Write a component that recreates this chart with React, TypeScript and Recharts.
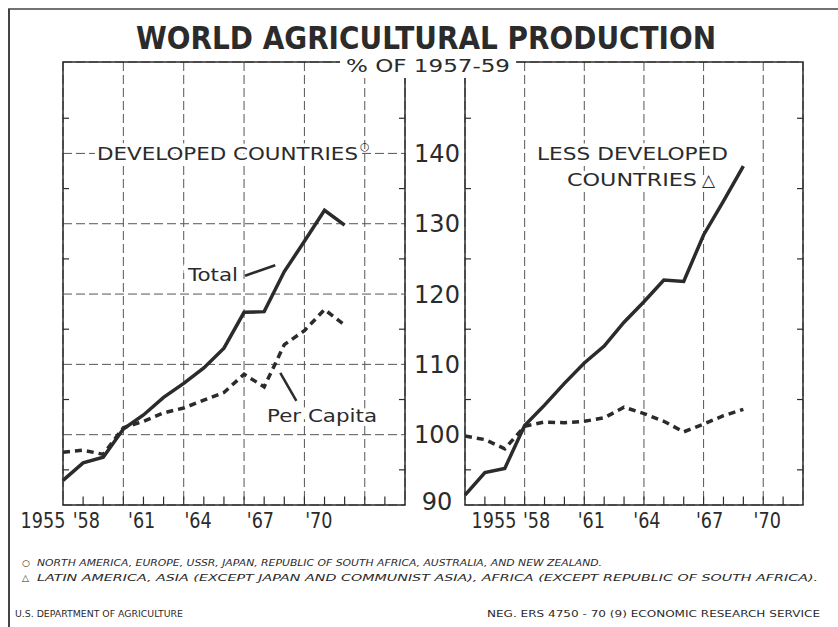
import React from 'react';
import { LineChart, Line, XAxis, YAxis, CartesianGrid, ReferenceLine, ReferenceArea } from 'recharts';

// index numbers, % of 1957-59
const years = [1955, 1956, 1957, 1958, 1959, 1960, 1961, 1962, 1963, 1964, 1965, 1966, 1967, 1968, 1969];
const devTotal = [93.5, 96, 96.8, 100.8, 102.8, 105.3, 107.3, 109.5, 112.3, 117.4, 117.5, 123.2, 127.5, 131.9, 129.8];
const devPerCapita = [97.5, 97.8, 97.2, 101, 101.9, 103.1, 103.8, 104.9, 106, 108.6, 106.8, 112.8, 114.8, 117.8, 115.6];
const ldcTotal = [91.4, 94.6, 95.2, 101.3, 104.2, 107.3, 110.2, 112.6, 116, 118.9, 122, 121.8, 128.4, 133.2, 138.2];
const ldcPerCapita = [99.8, 99.3, 98, 101.2, 101.8, 101.7, 101.9, 102.4, 103.9, 103, 101.9, 100.4, 101.5, 102.7, 103.6];

const yearTicks = [1955, 1958, 1961, 1964, 1967, 1970];
const yearLabels = ['1955', "'58", "'61", "'64", "'67", "'70"];
const minorYears = [1956, 1957, 1958, 1959, 1960, 1961, 1962, 1963, 1964, 1965, 1966, 1967, 1968, 1969, 1970, 1971];
const valueTicks = [90, 100, 110, 120, 130, 140];
const minorValues = [95, 105, 115, 125, 135, 145];
const xDomain = [1955, 1972];
const yDomain = [90, 153];

const devData = years.map((year, i) => ({ year, total: devTotal[i], perCapita: devPerCapita[i] }));
const ldcData = years.map((year, i) => ({ year, total: ldcTotal[i], perCapita: ldcPerCapita[i] }));

const ink = '#2b2b2b';
const font = 'DejaVu Sans, sans-serif';

const ValueTick = (props: any) => {
  const { x, y, payload } = props;
  const yy = payload.value === 90 ? y - 4 : y;
  return (
    <text x={x + 32} y={yy + 8.5} textAnchor="middle" fontSize={24} fill={ink} fontFamily={font}>
      {payload.value}
    </text>
  );
};

// the printed year labels sit left of their grid lines, more so in the left panel
const makeYearTick = (shifts: number[]) => (props: any) => {
  const { x, y, payload } = props;
  const i = yearTicks.indexOf(payload.value);
  return (
    <text
      transform={`translate(${x + shifts[i]}, ${y + 23}) scale(0.8, 1)`}
      textAnchor="middle"
      fontSize={22}
      fill={ink}
      fontFamily={font}
    >
      {yearLabels[i]}
    </text>
  );
};

const leftShifts = [-20, -37, -42, -46, -44, -46];
const rightShifts = [29, 12, 7, 3, 6, 4];

const Panel = ({ data, left, shifts }: { data: any[]; left: boolean; shifts: number[] }) => (
  <LineChart
    width={left ? 465 : 360}
    height={560}
    data={data}
    margin={left ? { top: 62, right: 0, bottom: 15, left: 63 } : { top: 62, right: 12, bottom: 15, left: 10 }}
  >
    <CartesianGrid stroke="#555" strokeDasharray="9 4" strokeWidth={1} />
    <XAxis
      dataKey="year"
      type="number"
      domain={xDomain}
      ticks={yearTicks}
      interval={0}
      height={40}
      tickSize={0}
      tickMargin={0}
      tickLine={false}
      axisLine={false}
      tick={makeYearTick(shifts)}
    />
    {left ? (
      <YAxis
        orientation="right"
        type="number"
        domain={yDomain}
        ticks={valueTicks}
        interval={0}
        width={60}
        tickSize={0}
        tickMargin={0}
        tickLine={false}
        axisLine={false}
        tick={ValueTick}
      />
    ) : (
      <YAxis type="number" domain={yDomain} ticks={valueTicks} interval={0} width={0} tick={false} tickLine={false} axisLine={false} />
    )}
    <ReferenceArea x1={xDomain[0]} x2={xDomain[1]} y1={yDomain[0]} y2={yDomain[1]} fill="none" stroke={ink} strokeWidth={1.5} />
    {minorYears.map((yr) => (
      <ReferenceLine key={`mx${yr}`} segment={[{ x: yr, y: yDomain[0] }, { x: yr, y: yDomain[0] + 1.2 }]} stroke={ink} strokeWidth={1.2} />
    ))}
    {minorValues.map((v) => (
      <ReferenceLine key={`ml${v}`} segment={[{ x: xDomain[0], y: v }, { x: xDomain[0] + 0.3, y: v }]} stroke={ink} strokeWidth={1.2} />
    ))}
    {minorValues.map((v) => (
      <ReferenceLine key={`mr${v}`} segment={[{ x: xDomain[1] - 0.3, y: v }, { x: xDomain[1], y: v }]} stroke={ink} strokeWidth={1.2} />
    ))}
    <Line type="linear" dataKey="total" stroke={ink} strokeWidth={3.5} dot={false} isAnimationActive={false} />
    <Line
      type="linear"
      dataKey="perCapita"
      stroke={ink}
      strokeWidth={3.5}
      strokeDasharray="7 5"
      dot={false}
      isAnimationActive={false}
    />
    {left && (
      <ReferenceLine segment={[{ x: 1964.05, y: 122.6 }, { x: 1965.55, y: 124.1 }]} stroke={ink} strokeWidth={2.5} />
    )}
    {left && (
      <ReferenceLine segment={[{ x: 1965.8, y: 108.8 }, { x: 1966.6, y: 104.8 }]} stroke={ink} strokeWidth={2.5} />
    )}
  </LineChart>
);

const halo = { stroke: '#fff', strokeWidth: 7, paintOrder: 'stroke' as const };

const App = () => (
  <div style={{ position: 'absolute', left: 0, top: 0, width: 838, height: 627, background: '#fff', overflow: 'hidden' }}>
    <div style={{ position: 'absolute', left: 0, top: 0 }}>
      <Panel data={devData} left shifts={leftShifts} />
    </div>
    <div style={{ position: 'absolute', left: 455, top: 0 }}>
      <Panel data={ldcData} left={false} shifts={rightShifts} />
    </div>
    <svg width={838} height={627} style={{ position: 'absolute', left: 0, top: 0, pointerEvents: 'none' }} fontFamily={font} fill={ink}>
      <line x1={8} y1={9} x2={838} y2={9} stroke="#444" strokeWidth={1.5} />
      <line x1={9} y1={9} x2={9} y2={627} stroke="#444" strokeWidth={2} />
      <text x={136} y={49} fontSize={32} fontWeight="bold" textLength={580} lengthAdjust="spacingAndGlyphs">
        WORLD AGRICULTURAL PRODUCTION
      </text>
      <rect x={340} y={56} width={176} height={22} fill="#fff" />
      <text x={346} y={72} fontSize={18} textLength={164} lengthAdjust="spacingAndGlyphs">
        % OF 1957-59
      </text>
      <text x={97} y={160} fontSize={18} textLength={261} lengthAdjust="spacingAndGlyphs" {...halo}>
        DEVELOPED COUNTRIES
      </text>
      <text x={360} y={150} fontSize={11}>○</text>
      <text x={537} y={160} fontSize={18} textLength={191} lengthAdjust="spacingAndGlyphs" {...halo}>
        LESS DEVELOPED
      </text>
      <text x={567} y={186} fontSize={18} textLength={130} lengthAdjust="spacingAndGlyphs" {...halo}>
        COUNTRIES
      </text>
      <text x={702} y={186} fontSize={17} {...halo}>△</text>
      <text x={188} y={281} fontSize={17} textLength={50} lengthAdjust="spacingAndGlyphs" {...halo}>
        Total
      </text>
      <text x={267} y={422} fontSize={18} textLength={110} lengthAdjust="spacingAndGlyphs" {...halo}>
        Per Capita
      </text>
      <text x={22} y={566} fontSize={9}>○</text>
      <text x={37} y={566} fontSize={9} fontStyle="italic" textLength={565} lengthAdjust="spacingAndGlyphs">
        NORTH AMERICA, EUROPE, USSR, JAPAN, REPUBLIC OF SOUTH AFRICA, AUSTRALIA, AND NEW ZEALAND.
      </text>
      <text x={22} y={581} fontSize={9}>△</text>
      <text x={37} y={581} fontSize={9} fontStyle="italic" textLength={781} lengthAdjust="spacingAndGlyphs">
        LATIN AMERICA, ASIA (EXCEPT JAPAN AND COMMUNIST ASIA), AFRICA (EXCEPT REPUBLIC OF SOUTH AFRICA).
      </text>
      <text x={15} y={617} fontSize={8} textLength={168} lengthAdjust="spacingAndGlyphs">
        U.S. DEPARTMENT OF AGRICULTURE
      </text>
      <text x={487} y={617} fontSize={8} textLength={333} lengthAdjust="spacingAndGlyphs">
        NEG. ERS 4750 - 70 (9)    ECONOMIC RESEARCH SERVICE
      </text>
    </svg>
  </div>
);

export default App;
